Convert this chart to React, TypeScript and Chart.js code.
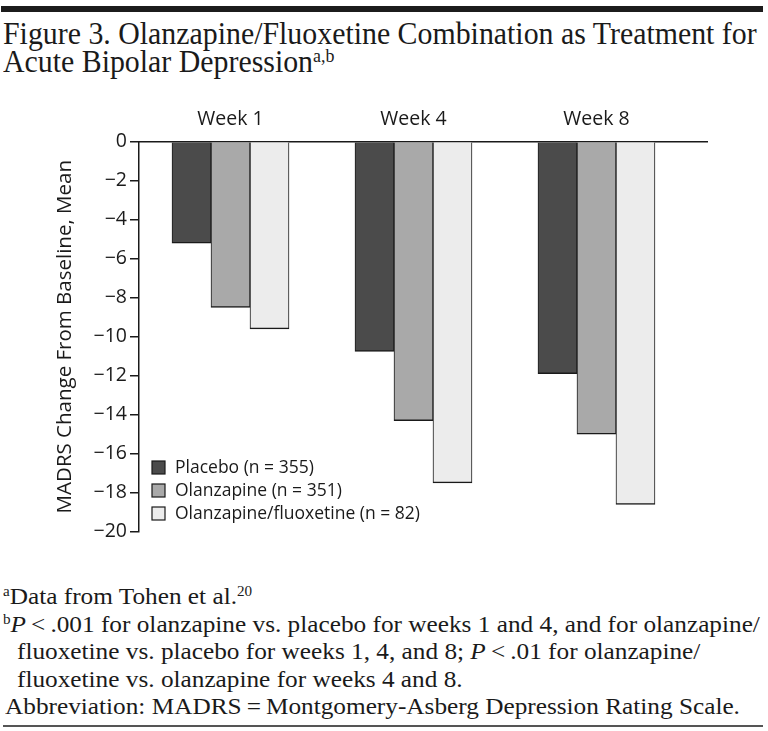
import React, { useEffect, useLayoutEffect, useRef } from 'react';
import { Chart, registerables } from 'chart.js';

Chart.register(...registerables);

// ---- data ----
const categories = ['Week 1', 'Week 4', 'Week 8'];
const seriesLabels = ['Placebo (n = 355)', 'Olanzapine (n = 351)', 'Olanzapine/fluoxetine (n = 82)'];
const placeboValues = [-5.2, -10.75, -11.9];
const olanzapineValues = [-8.5, -14.3, -15.0];
const olzFlxValues = [-9.6, -17.5, -18.6];
const yTickValues = [0, -2, -4, -6, -8, -10, -12, -14, -16, -18, -20];
const yAxisTitle = 'MADRS Change From Baseline, Mean';

const seriesColors = ['#4b4b4b', '#a9a9a9', '#ececec'];
const INK = '#1a1a1a';
const SANS = '"Open Sans", "Noto Sans", sans-serif';
const SERIF = '"Liberation Serif", "DejaVu Serif", serif';

const insideLegend = {
  id: 'insideLegend',
  afterDraw(chart: any) {
    const ctx = chart.ctx as CanvasRenderingContext2D;
    ctx.save();
    chart.data.datasets.forEach((ds: any, i: number) => {
      const cy = 377.5 + i * 23;
      ctx.fillStyle = ds.backgroundColor;
      ctx.fillRect(152, cy - 6.5, 13, 13);
      ctx.strokeStyle = INK;
      ctx.lineWidth = 1.2;
      ctx.strokeRect(152, cy - 6.5, 13, 13);
      ctx.fillStyle = INK;
      ctx.font = `17.5px ${SANS}`;
      ctx.textBaseline = 'middle';
      ctx.textAlign = 'left';
      ctx.fillText(ds.label, 175, cy + 1);
    });
    ctx.restore();
  },
};

export default function App() {
  const canvasRef = useRef<HTMLCanvasElement | null>(null);
  const titleRefs = useRef<(HTMLDivElement | null)[]>([]);
  const noteRefs = useRef<(HTMLDivElement | null)[]>([]);

  useLayoutEffect(() => {
    const fit = (els: (HTMLDivElement | null)[], idx: number, target: number) => {
      const el = els[idx];
      if (!el) return;
      const s = target / el.offsetWidth;
      els.forEach((e) => {
        if (e) e.style.transform = `scaleX(${s})`;
      });
    };
    fit(titleRefs.current, 0, 754);
    fit(noteRefs.current, 4, 735);
  }, []);

  useEffect(() => {
    if (!canvasRef.current) return;
    const allValues = [placeboValues, olanzapineValues, olzFlxValues];
    const chart = new Chart(canvasRef.current, {
      type: 'bar',
      data: {
        datasets: allValues.map((vals, si) => ({
          label: seriesLabels[si],
          data: vals.map((v, i) => ({ x: i, y: v })),
          backgroundColor: seriesColors[si],
          borderColor: INK,
          borderWidth: { top: 0, left: 1, right: 1, bottom: 1.5 },
          borderSkipped: false,
          barThickness: 39,
        })),
      },
      options: {
        animation: false,
        responsive: true,
        maintainAspectRatio: false,
        layout: { padding: { left: 0, right: 61, top: 0, bottom: 18.3 } },
        plugins: { legend: { display: false }, tooltip: { enabled: false }, title: { display: false } },
        scales: {
          x: {
            type: 'linear',
            position: 'top',
            offset: false,
            min: -0.5,
            max: 2.604,
            z: 1,
            grid: { display: false },
            border: { display: true, color: INK, width: 1.5 },
            afterBuildTicks: (scale: any) => {
              scale.ticks = categories.map((_, i) => ({ value: i }));
            },
            afterFit: (scale: any) => {
              scale.height = 51.7;
            },
            ticks: {
              padding: 3,
              color: INK,
              font: { family: SANS, size: 19.5 },
              callback: (v: any) => categories[Math.round(Number(v))] ?? '',
            },
          },
          y: {
            type: 'linear',
            position: 'left',
            min: -20,
            max: 0,
            z: 1,
            afterBuildTicks: (scale: any) => {
              scale.ticks = yTickValues.map((v) => ({ value: v }));
            },
            afterFit: (scale: any) => {
              scale.width = 139;
            },
            grid: { drawOnChartArea: false, drawTicks: true, tickLength: 9, color: INK, lineWidth: 1.5 },
            border: { display: true, color: INK, width: 1.5 },
            ticks: {
              padding: 3,
              color: INK,
              font: { family: SANS, size: 19.5 },
              callback: (v: any) => (Number(v) < 0 ? '\u2212' + Math.abs(Number(v)) : String(v)),
            },
            title: {
              display: true,
              text: yAxisTitle,
              color: INK,
              font: { family: SANS, size: 20.5 },
              padding: { top: 52.7, bottom: 0 },
            },
          },
        },
      },
      plugins: [insideLegend],
    } as any);
    return () => chart.destroy();
  }, []);

  const F_T = 31;
  const F_N = 24;
  const lineStyle = (baseline: number, size: number, left: number): React.CSSProperties => ({
    position: 'absolute',
    left,
    top: baseline - 0.8375 * size,
    fontFamily: SERIF,
    fontSize: size,
    lineHeight: 1,
    whiteSpace: 'nowrap',
    color: INK,
    transformOrigin: 'left center',
  });
  const sup: React.CSSProperties = { fontSize: '0.6em', verticalAlign: '0.55em', lineHeight: 0 };

  return (
    <div style={{ position: 'absolute', left: 0, top: 0, width: 768, height: 731, background: '#fff', overflow: 'hidden' }}>
      <div style={{ position: 'absolute', left: 1, top: 6, width: 762, height: 6, background: '#1c1c1c' }} />
      <div ref={(el) => { titleRefs.current[0] = el; }} style={lineStyle(44, F_T, 3)}>
        Figure 3. Olanzapine/Fluoxetine Combination as Treatment for
      </div>
      <div ref={(el) => { titleRefs.current[1] = el; }} style={lineStyle(72, F_T, 3)}>
        Acute Bipolar Depression<span style={sup}>a,b</span>
      </div>

      <div style={{ position: 'absolute', left: 0, top: 90, width: 768, height: 460 }}>
        <canvas ref={canvasRef} />
      </div>

      <div ref={(el) => { noteRefs.current[0] = el; }} style={lineStyle(604, F_N, 3)}>
        <span style={sup}>a</span>Data from Tohen et al.<span style={sup}>20</span>
      </div>
      <div ref={(el) => { noteRefs.current[1] = el; }} style={lineStyle(632, F_N, 3)}>
        <span style={sup}>b</span><i>P</i>&thinsp;&lt;&thinsp;.001 for olanzapine vs. placebo for weeks 1 and 4, and for olanzapine/
      </div>
      <div ref={(el) => { noteRefs.current[2] = el; }} style={lineStyle(659, F_N, 17)}>
        fluoxetine vs. placebo for weeks 1, 4, and 8; <i>P</i>&thinsp;&lt;&thinsp;.01 for olanzapine/
      </div>
      <div ref={(el) => { noteRefs.current[3] = el; }} style={lineStyle(687, F_N, 17)}>
        fluoxetine vs. olanzapine for weeks 4 and 8.
      </div>
      <div ref={(el) => { noteRefs.current[4] = el; }} style={lineStyle(714, F_N, 5)}>
        Abbreviation: MADRS&thinsp;=&thinsp;Montgomery-Asberg Depression Rating Scale.
      </div>
      <div style={{ position: 'absolute', left: 3, top: 725, width: 760, height: 1.5, background: '#555' }} />
    </div>
  );
}
